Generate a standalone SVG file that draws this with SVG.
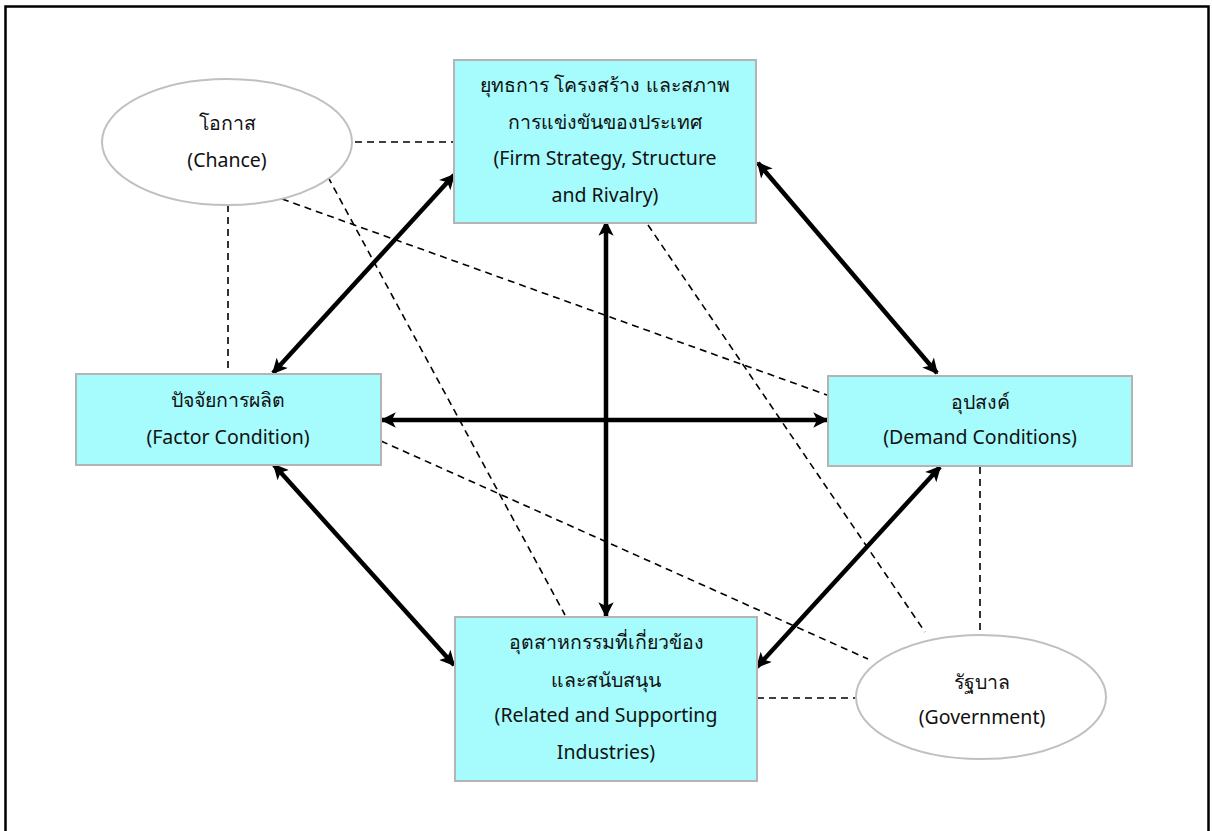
<svg xmlns="http://www.w3.org/2000/svg" width="1212" height="831" viewBox="0 0 1212 831">
<defs>
<style>
.box{fill:#a6fcfc;stroke:#b4b4b4;stroke-width:2}
.ell{fill:#fff;stroke:#c0c0c0;stroke-width:2}
.t{font-family:"Noto Sans","DejaVu Sans",sans-serif;font-size:19.5px;fill:#111;text-anchor:middle}
.bold{stroke:#000;stroke-width:4.5;fill:none;marker-start:url(#ah);marker-end:url(#ah)}
.dash{stroke:#000;stroke-width:1.6;fill:none;stroke-dasharray:7 5}
</style>
<marker id="ah" viewBox="0 0 10 10" refX="9" refY="5" markerWidth="3.8" markerHeight="3.4" orient="auto-start-reverse" markerUnits="strokeWidth">
<path d="M0,0 L10,5 L0,10 L2.5,5 z" fill="#000"/>
</marker>
</defs>
<rect x="5.5" y="6.5" width="1203" height="840" fill="#fff" stroke="#000" stroke-width="2.5"/>
<g id="connectors">
<line class="dash" x1="355" y1="142" x2="454" y2="142"/>
<line class="dash" x1="228" y1="205" x2="228" y2="374"/>
<line class="dash" x1="282" y1="199" x2="827" y2="395"/>
<line class="dash" x1="328" y1="177" x2="565" y2="615"/>
<line class="dash" x1="648" y1="225" x2="925" y2="632"/>
<line class="dash" x1="381" y1="441" x2="868" y2="659"/>
<line class="dash" x1="980" y1="467" x2="980" y2="636"/>
<line class="dash" x1="757" y1="698" x2="855" y2="698"/>
<line class="bold" x1="273" y1="373" x2="454" y2="175"/>
<line class="bold" x1="758" y1="163" x2="937" y2="373"/>
<line class="bold" x1="606" y1="222" x2="606" y2="616"/>
<line class="bold" x1="382" y1="420" x2="827" y2="420"/>
<line class="bold" x1="274" y1="465" x2="454" y2="665"/>
<line class="bold" x1="940" y1="467" x2="757" y2="667"/>
</g>
<g id="chance">
<ellipse class="ell" cx="227" cy="142" rx="125" ry="63"/>
<text class="t" x="227" y="130">โอกาส</text>
<text class="t" x="227" y="167">(Chance)</text>
</g>
<g id="government">
<ellipse class="ell" cx="981" cy="697" rx="125" ry="62"/>
<text class="t" x="982" y="689">รัฐบาล</text>
<text class="t" x="982" y="724">(Government)</text>
</g>
<g id="strategy">
<rect class="box" x="454" y="60" width="302" height="163"/>
<text class="t" x="605" y="92">ยุทธการ โครงสร้าง และสภาพ</text>
<text class="t" x="605" y="129">การแข่งขันของประเทศ</text>
<text class="t" x="605" y="165">(Firm Strategy, Structure</text>
<text class="t" x="605" y="202">and Rivalry)</text>
</g>
<g id="factor">
<rect class="box" x="76" y="374" width="305" height="91"/>
<text class="t" x="228" y="407">ปัจจัยการผลิต</text>
<text class="t" x="228" y="444">(Factor Condition)</text>
</g>
<g id="demand">
<rect class="box" x="828" y="376" width="304" height="90"/>
<text class="t" x="980" y="409">อุปสงค์</text>
<text class="t" x="980" y="444">(Demand Conditions)</text>
</g>
<g id="related">
<rect class="box" x="455" y="617" width="302" height="164"/>
<text class="t" x="606" y="649">อุตสาหกรรมที่เกี่ยวข้อง</text>
<text class="t" x="606" y="687">และสนับสนุน</text>
<text class="t" x="606" y="722">(Related and Supporting</text>
<text class="t" x="606" y="759">Industries)</text>
</g>
</svg>
